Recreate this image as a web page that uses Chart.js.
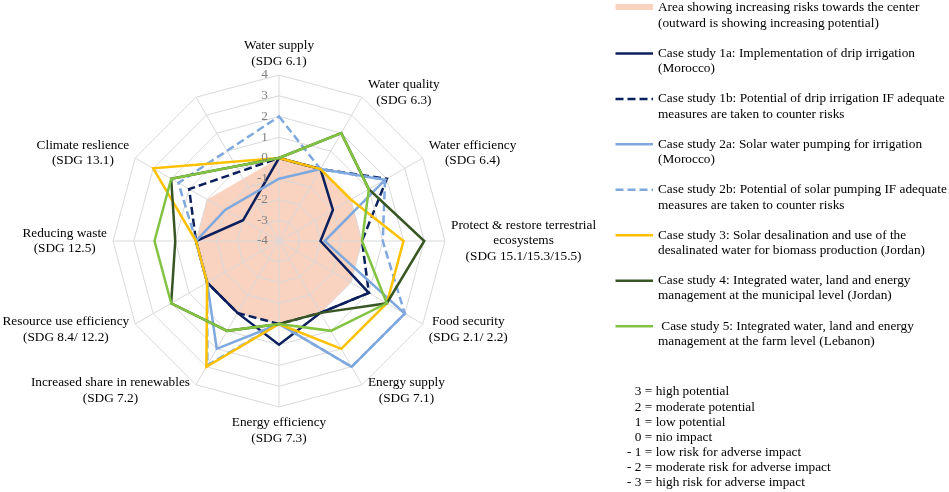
<!DOCTYPE html>
<html>
<head>
<meta charset="utf-8">
<script src="https://cdn.jsdelivr.net/npm/chart.js"></script>
<style>
  html, body { margin: 0; padding: 0; background: #fff; }
  #wrap { position: relative; width: 949px; height: 492px; }
</style>
</head>
<body>
<div id="wrap"><canvas id="radar"></canvas></div>
<script>
// axis categories (12th spoke has no label and no data in the original)
const categories = [
  ['Water supply', '(SDG 6.1)'],
  ['Water quality', '(SDG 6.3)'],
  ['Water efficiency', '(SDG 6.4)'],
  ['Protect & restore terrestrial', 'ecosystems', '(SDG 15.1/15.3/15.5)'],
  ['Food security', '(SDG 2.1/ 2.2)'],
  ['Energy supply', '(SDG 7.1)'],
  ['Energy efficiency', '(SDG 7.3)'],
  ['Increased share in renewables', '(SDG 7.2)'],
  ['Resource use efficiency', '(SDG 8.4/ 12.2)'],
  ['Reducing waste', '(SDG 12.5)'],
  ['Climate reslience', '(SDG 13.1)'],
  ''
]
const tickValues = [-4, -3, -2, -1, 0, 1, 2, 3, 4]

const riskArea = [0, 0, 0, 0, 0, 0, 0, 0, 0, 0, 0, null]
const case1a = [0, 0, -1, -2, 1, 0, 1, 0, 0, 0, -2, null]
const case1b = [0, 0, 2, 0, 1, 0, 0, 0, 0, 0, 1, null]
const case2a = [-1, 0, 1.9, -1.8, 3, 3, 0, 2, 0, 0, -1, null]
const case2b = [2, 0, 1.9, 1, 3, 3, 0, 2.9, 0, 0, 1.6, null]
const case3 = [0, 0, 0, 2, 2, 2, 0, 3, 0, 0, 3, null]
const case4 = [0, 2, 1, 3, 2, 0, 0, 1, 2, 1, 2, null]
const case5 = [0, 2, 1, 0, 2, 1, 0, 1, 2, 2, 2, null]

const seriesNames = [
  ['Area showing increasing risks towards the center', '(outward is showing increasing potential)'],
  ['Case study 1a: Implementation of drip irrigation', '(Morocco)'],
  ['Case study 1b: Potential of drip irrigation IF adequate', 'measures are taken to counter risks'],
  ['Case study 2a: Solar water pumping for irrigation', '(Morocco)'],
  ['Case study 2b: Potential of solar pumping IF adequate', 'measures are taken to counter risks'],
  ['Case study 3: Solar desalination and use of the', 'desalinated water for biomass production (Jordan)'],
  ['Case study 4: Integrated water, land and energy', 'management at the municipal level (Jordan)'],
  [' Case study 5: Integrated water, land and energy', 'management at the farm level (Lebanon)']
]
const scaleKey = [
  '3 = high potential',
  '2 = moderate potential',
  '1 = low potential',
  '0 = nio impact',
  '- 1 = low risk for adverse impact',
  '- 2 = moderate risk for adverse impact',
  '- 3 = high risk for adverse impact'
]

const FONT = '13.3px "Liberation Serif", "Times New Roman", serif'
const NAVY = '#0b1f5c'
const LIGHTBLUE = '#7ea8de'
const PINK = '#f9d2c0'

function lineSet(label, data, color, dashed, order) {
  return {
    label: label.join(' ').trim(),
    data: data,
    borderColor: color,
    backgroundColor: color,
    borderWidth: 2.5,
    borderDash: dashed ? [8, 4] : [],
    borderJoinStyle: 'miter',
    fill: false,
    spanGaps: true,
    pointRadius: 0,
    order: order
  }
}

const datasets = [
  {
    label: seriesNames[0].join(' '),
    data: riskArea,
    borderWidth: 0,
    borderColor: PINK,
    backgroundColor: PINK,
    fill: 'start',
    spanGaps: true,
    pointRadius: 0,
    order: 10
  },
  lineSet(seriesNames[1], case1a, NAVY, false, 7),
  lineSet(seriesNames[2], case1b, NAVY, true, 6),
  lineSet(seriesNames[3], case2a, LIGHTBLUE, false, 5),
  lineSet(seriesNames[4], case2b, LIGHTBLUE, true, 4),
  lineSet(seriesNames[5], case3, '#ffc000', false, 3),
  lineSet(seriesNames[6], case4, '#375623', false, 2),
  lineSet(seriesNames[7], case5, '#82c341', false, 1)
]

// axis labels, tick numbers and the legend drawn onto the chart canvas
const overlay = {
  id: 'overlay',
  afterDraw(chart) {
    const ctx = chart.ctx
    const r = chart.scales.r
    ctx.save()
    ctx.font = FONT
    ctx.textBaseline = 'middle'

    // tick numbers, left of the vertical spoke
    ctx.fillStyle = '#808080'
    ctx.textAlign = 'right'
    tickValues.forEach(v => {
      ctx.fillText(String(v), r.xCenter - 11, r.yCenter - r.getDistanceFromCenterForValue(v))
    })

    // spoke labels, placed like Excel does
    ctx.fillStyle = '#000'
    ctx.textAlign = 'center'
    const lh = 15.5
    categories.forEach((lab, i) => {
      const lines = Array.isArray(lab) ? lab : [lab]
      if (!lines[0]) return
      const p = r.getPointPosition(i, r.drawingArea)
      const a = i * Math.PI / 6
      const s = Math.sin(a), c = Math.cos(a)
      const w = Math.max(...lines.map(t => ctx.measureText(t).width))
      let cx
      if (s > 0.1) cx = p.x + 6 + w / 2
      else if (s < -0.1) cx = p.x - 6 - w / 2
      else cx = p.x
      let y0
      const n = lines.length
      if (c > 0.9) y0 = p.y - 13.5 - (n - 1) * lh
      else if (c < -0.9) y0 = p.y + 16
      else if (c > 0.1) y0 = p.y + 3 - (n - 1) * lh
      else if (c < -0.1) y0 = p.y - 2
      else y0 = p.y - (n - 1) * lh / 2
      lines.forEach((t, k) => ctx.fillText(t, cx, y0 + k * lh))
    })

    // legend
    ctx.textAlign = 'left'
    const lx0 = 615.5, lx1 = 653, tx = 658
    seriesNames.forEach((lines, k) => {
      const y = 8 + k * 45.45
      const ds = chart.data.datasets[k]
      if (k === 0) {
        ctx.fillStyle = PINK
        ctx.fillRect(lx0, y - 4, lx1 - lx0, 6)
      } else {
        ctx.strokeStyle = ds.borderColor
        ctx.lineWidth = 2.5
        ctx.setLineDash(ds.borderDash)
        ctx.beginPath()
        ctx.moveTo(lx0, y)
        ctx.lineTo(lx1, y)
        ctx.stroke()
        ctx.setLineDash([])
      }
      ctx.fillStyle = '#000'
      lines.forEach((t, j) => ctx.fillText(t, tx, y + j * 15.3))
    })

    // key to the scale values
    scaleKey.forEach((t, k) => {
      const y = 392 + k * 15.05
      const parts = t.split(' = ')
      ctx.textAlign = 'right'
      ctx.fillText(parts[0], 641.5, y)
      ctx.textAlign = 'left'
      ctx.fillText(' = ' + parts[1], 641.5, y)
    })
    ctx.restore()
  }
}

new Chart(document.getElementById('radar'), {
  type: 'radar',
  data: { labels: categories, datasets: datasets },
  options: {
    responsive: true,
    maintainAspectRatio: false,
    animation: false,
    layout: { padding: { left: 113, right: 503, top: 75, bottom: 84 } },
    plugins: {
      legend: { display: false },
      tooltip: { enabled: false },
      filler: { drawTime: 'beforeDraw' }
    },
    scales: {
      r: {
        min: -4,
        max: 4,
        ticks: { stepSize: 1, display: false },
        grid: { color: '#d9d9d9', lineWidth: 1 },
        angleLines: { color: '#d9d9d9', lineWidth: 1 },
        pointLabels: { display: false }
      }
    }
  },
  plugins: [overlay]
})
</script>
</body>
</html>
